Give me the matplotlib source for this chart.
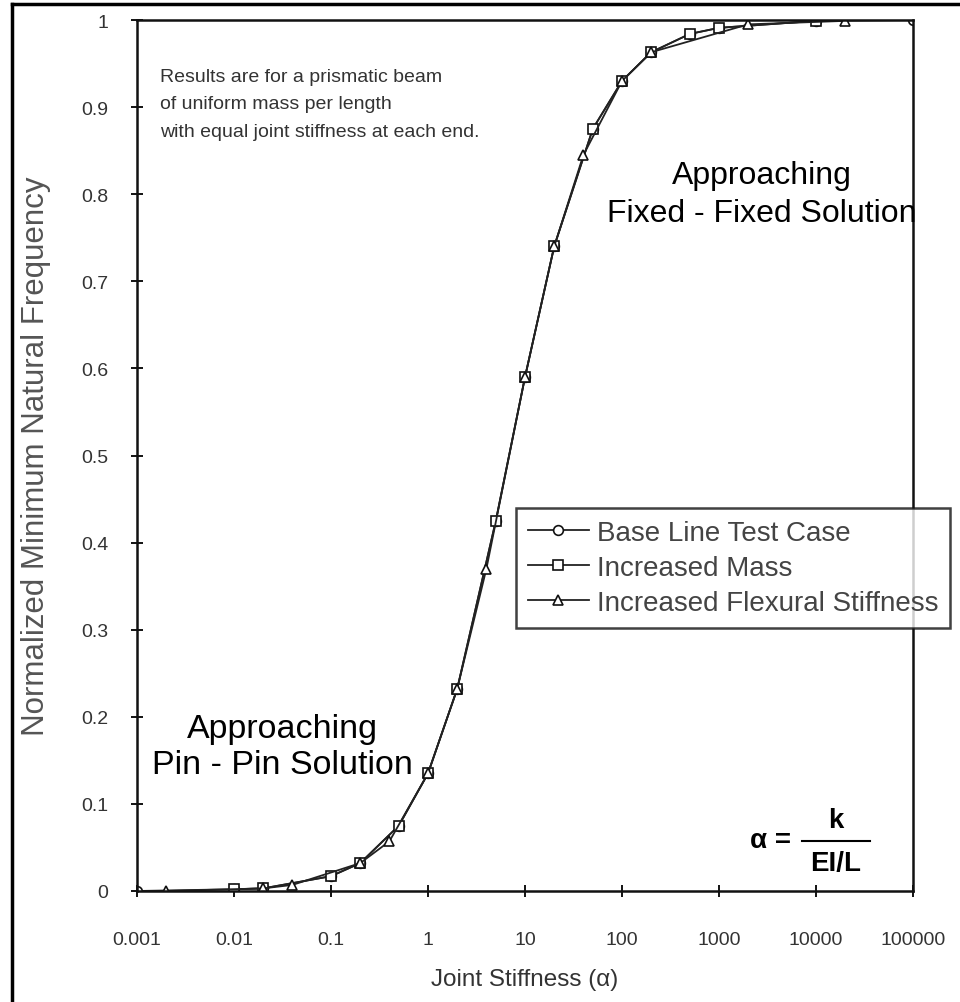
import matplotlib.pyplot as plt
from matplotlib.lines import Line2D

plt.rcParams["font.family"] = ["Liberation Sans", "DejaVu Sans"]

# data
base_alpha = [0.001, 0.01, 0.02, 0.1, 0.2, 0.5, 1, 2, 5, 10, 20, 50, 100, 200, 500, 1000, 10000, 100000]
base_freq = [0.0, 0.002, 0.003, 0.017, 0.032, 0.075, 0.135, 0.232, 0.425, 0.59, 0.74,
             0.875, 0.93, 0.963, 0.984, 0.991, 0.999, 1.0]

mass_alpha = [0.01, 0.02, 0.1, 0.2, 0.5, 1, 2, 5, 10, 20, 50, 100, 200, 500, 1000, 10000]
mass_freq = [0.002, 0.003, 0.017, 0.032, 0.075, 0.135, 0.232, 0.425, 0.59, 0.74,
             0.875, 0.93, 0.963, 0.984, 0.991, 0.999]

flex_alpha = [0.002, 0.02, 0.04, 0.2, 0.4, 1, 2, 4, 10, 20, 40, 100, 200, 2000, 20000]
flex_freq = [0.0, 0.003, 0.007, 0.032, 0.057, 0.135, 0.232, 0.37, 0.59, 0.74,
             0.845, 0.93, 0.963, 0.995, 0.999]

x_ticks = [0.001, 0.01, 0.1, 1, 10, 100, 1000, 10000, 100000]
x_labels = ["0.001", "0.01", "0.1", "1", "10", "100", "1000", "10000", "100000"]
y_ticks = [0, 0.1, 0.2, 0.3, 0.4, 0.5, 0.6, 0.7, 0.8, 0.9, 1]
y_labels = ["0", "0.1", "0.2", "0.3", "0.4", "0.5", "0.6", "0.7", "0.8", "0.9", "1"]

W, H = 960, 1003
fig = plt.figure(figsize=(W / 100, H / 100), dpi=100)
ax = fig.add_axes([137 / W, 1 - 892 / H, (913 - 137) / W, (892 - 21) / H])

# outer frame (left and top only visible)
fig.add_artist(Line2D([12 / W, 12 / W], [0, 1 - 5 / H], transform=fig.transFigure, color="k", lw=2.5))
fig.add_artist(Line2D([12 / W, 1], [1 - 5 / H, 1 - 5 / H], transform=fig.transFigure, color="k", lw=2.5))

style = dict(color="#222222", lw=1.3, markersize=7, markerfacecolor="white",
             markeredgecolor="#111111", markeredgewidth=1.2)
ax.plot(base_alpha, base_freq, marker="o", label="Base Line Test Case", **style)
ax.plot(mass_alpha, mass_freq, marker="s", label="Increased Mass", **style)
ax.plot(flex_alpha, flex_freq, marker="^", label="Increased Flexural Stiffness", **style)

ax.set_xscale("log")
ax.set_xlim(0.001, 100000)
ax.set_ylim(0, 1)
ax.set_xticks(x_ticks)
ax.set_xticklabels(x_labels)
ax.minorticks_off()
ax.set_yticks(y_ticks)
ax.set_yticklabels(y_labels)
ax.tick_params(direction="inout", length=9, width=1.3, labelsize=14, labelcolor="#333333")
ax.tick_params(axis="x", pad=24)
ax.tick_params(axis="y", pad=16)
for s in ax.spines.values():
    s.set_linewidth(1.8)
    s.set_color("#111111")

ax.set_xlabel("Joint Stiffness (\u03b1)", fontsize=17.5, color="#333333", labelpad=15)
ax.set_ylabel("Normalized Minimum Natural Frequency", fontsize=22.5, color="#555555", labelpad=22)

ax.text(0.03, 0.945, "Results are for a prismatic beam\nof uniform mass per length\nwith equal joint stiffness at each end.",
        transform=ax.transAxes, fontsize=14, color="#333333", va="top", ha="left", linespacing=1.8)
ax.text(0.805, 0.80, "Approaching\nFixed - Fixed Solution", transform=ax.transAxes,
        fontsize=23, ha="center", va="center", multialignment="center", linespacing=1.35)
ax.text(0.188, 0.166, "Approaching\nPin - Pin Solution", transform=ax.transAxes,
        fontsize=24.5, ha="center", va="center", multialignment="center", linespacing=1.2)

ax.text(0.816, 0.058, "\u03b1 =", transform=ax.transAxes, fontsize=20, fontweight="bold",
        ha="center", va="center")
ax.text(0.9, 0.082, "k", transform=ax.transAxes, fontsize=20, fontweight="bold",
        ha="center", va="center")
ax.text(0.9, 0.032, "EI/L", transform=ax.transAxes, fontsize=20, fontweight="bold",
        ha="center", va="center")
ax.plot([0.857, 0.945], [0.057, 0.057], transform=ax.transAxes, color="k", lw=1.5)

leg = ax.legend(loc="upper left", bbox_to_anchor=(516 / W, 1 - 509 / H), bbox_transform=fig.transFigure,
                borderaxespad=0, fontsize=20, frameon=True, fancybox=False, handlelength=2.2,
                handletextpad=0.3, labelspacing=0.33, borderpad=0.42, labelcolor="#444444")
leg.get_frame().set_edgecolor("#111111")
leg.get_frame().set_linewidth(1.8)
leg.set_clip_on(False)

fig.savefig("out.png", dpi=100)
